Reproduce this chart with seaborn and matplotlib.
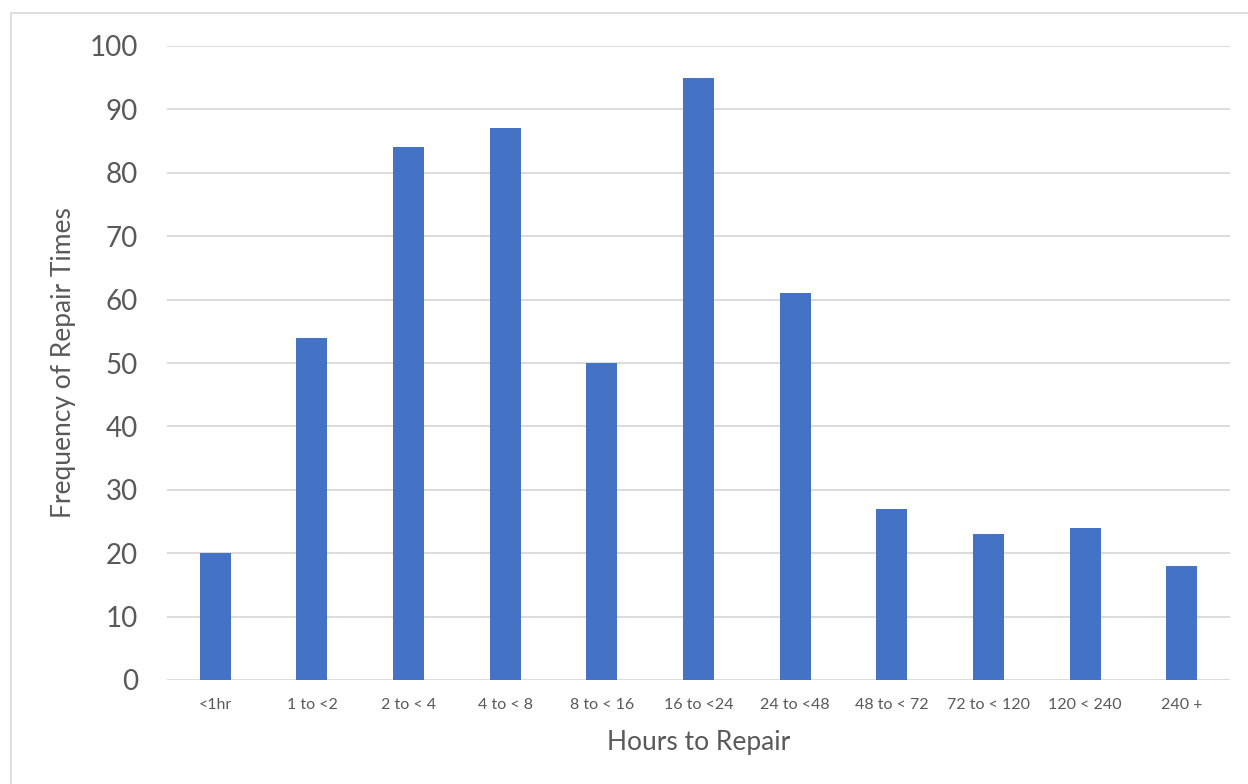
import matplotlib
matplotlib.use('Agg')
import matplotlib.pyplot as plt
import seaborn as sns
import pandas as pd
from matplotlib.patches import Rectangle

# repair time buckets and their counts
categories = ['<1hr', '1 to <2', '2 to < 4', '4 to < 8', '8 to < 16', '16 to <24',
              '24 to <48', '48 to < 72', '72 to < 120', '120 < 240', '240 +']
frequency = [20, 54, 84, 87, 50, 95, 61, 27, 23, 24, 18]
y_ticks = list(range(0, 101, 10))

bar_color = '#4472C4'
text_color = '#595959'
grid_color = '#D9D9D9'

df = pd.DataFrame({'bucket': categories, 'freq': frequency})

sns.set_theme(style='white')
plt.rcParams['font.family'] = ['Lato', 'DejaVu Sans']

fig = plt.figure(figsize=(12.48, 7.84), dpi=100)
ax = fig.add_axes([167 / 1248, 1 - 680 / 784, (1230 - 167) / 1248, (680 - 46) / 784])

sns.barplot(data=df, x='bucket', y='freq', color=bar_color, saturation=1,
            width=0.32, ax=ax, linewidth=0)

ax.set_xlim(-0.5, len(categories) - 0.5)
ax.set_ylim(0, 100)
ax.set_yticks(y_ticks)
ax.set_axisbelow(True)
ax.yaxis.grid(True, color=grid_color, linewidth=1.3)
ax.xaxis.grid(False)
for s in ax.spines.values():
    s.set_visible(False)

ax.tick_params(axis='y', length=0, pad=21, labelsize=20, labelcolor=text_color)
ax.tick_params(axis='x', length=0, pad=13, labelsize=11.5, labelcolor=text_color)

ax.set_xlabel('Hours to Repair', fontsize=19, color=text_color, labelpad=13)
ax.set_ylabel('Frequency of Repair Times', fontsize=19, color=text_color, labelpad=10)

# light chart border like the spreadsheet chart area
fig.patches.append(Rectangle((11 / 1248, -0.1), 1.2, 1 - 13 / 784 + 0.1,
                             transform=fig.transFigure, fill=False,
                             edgecolor=grid_color, linewidth=1.2))

fig.savefig('out.png', dpi=100)
